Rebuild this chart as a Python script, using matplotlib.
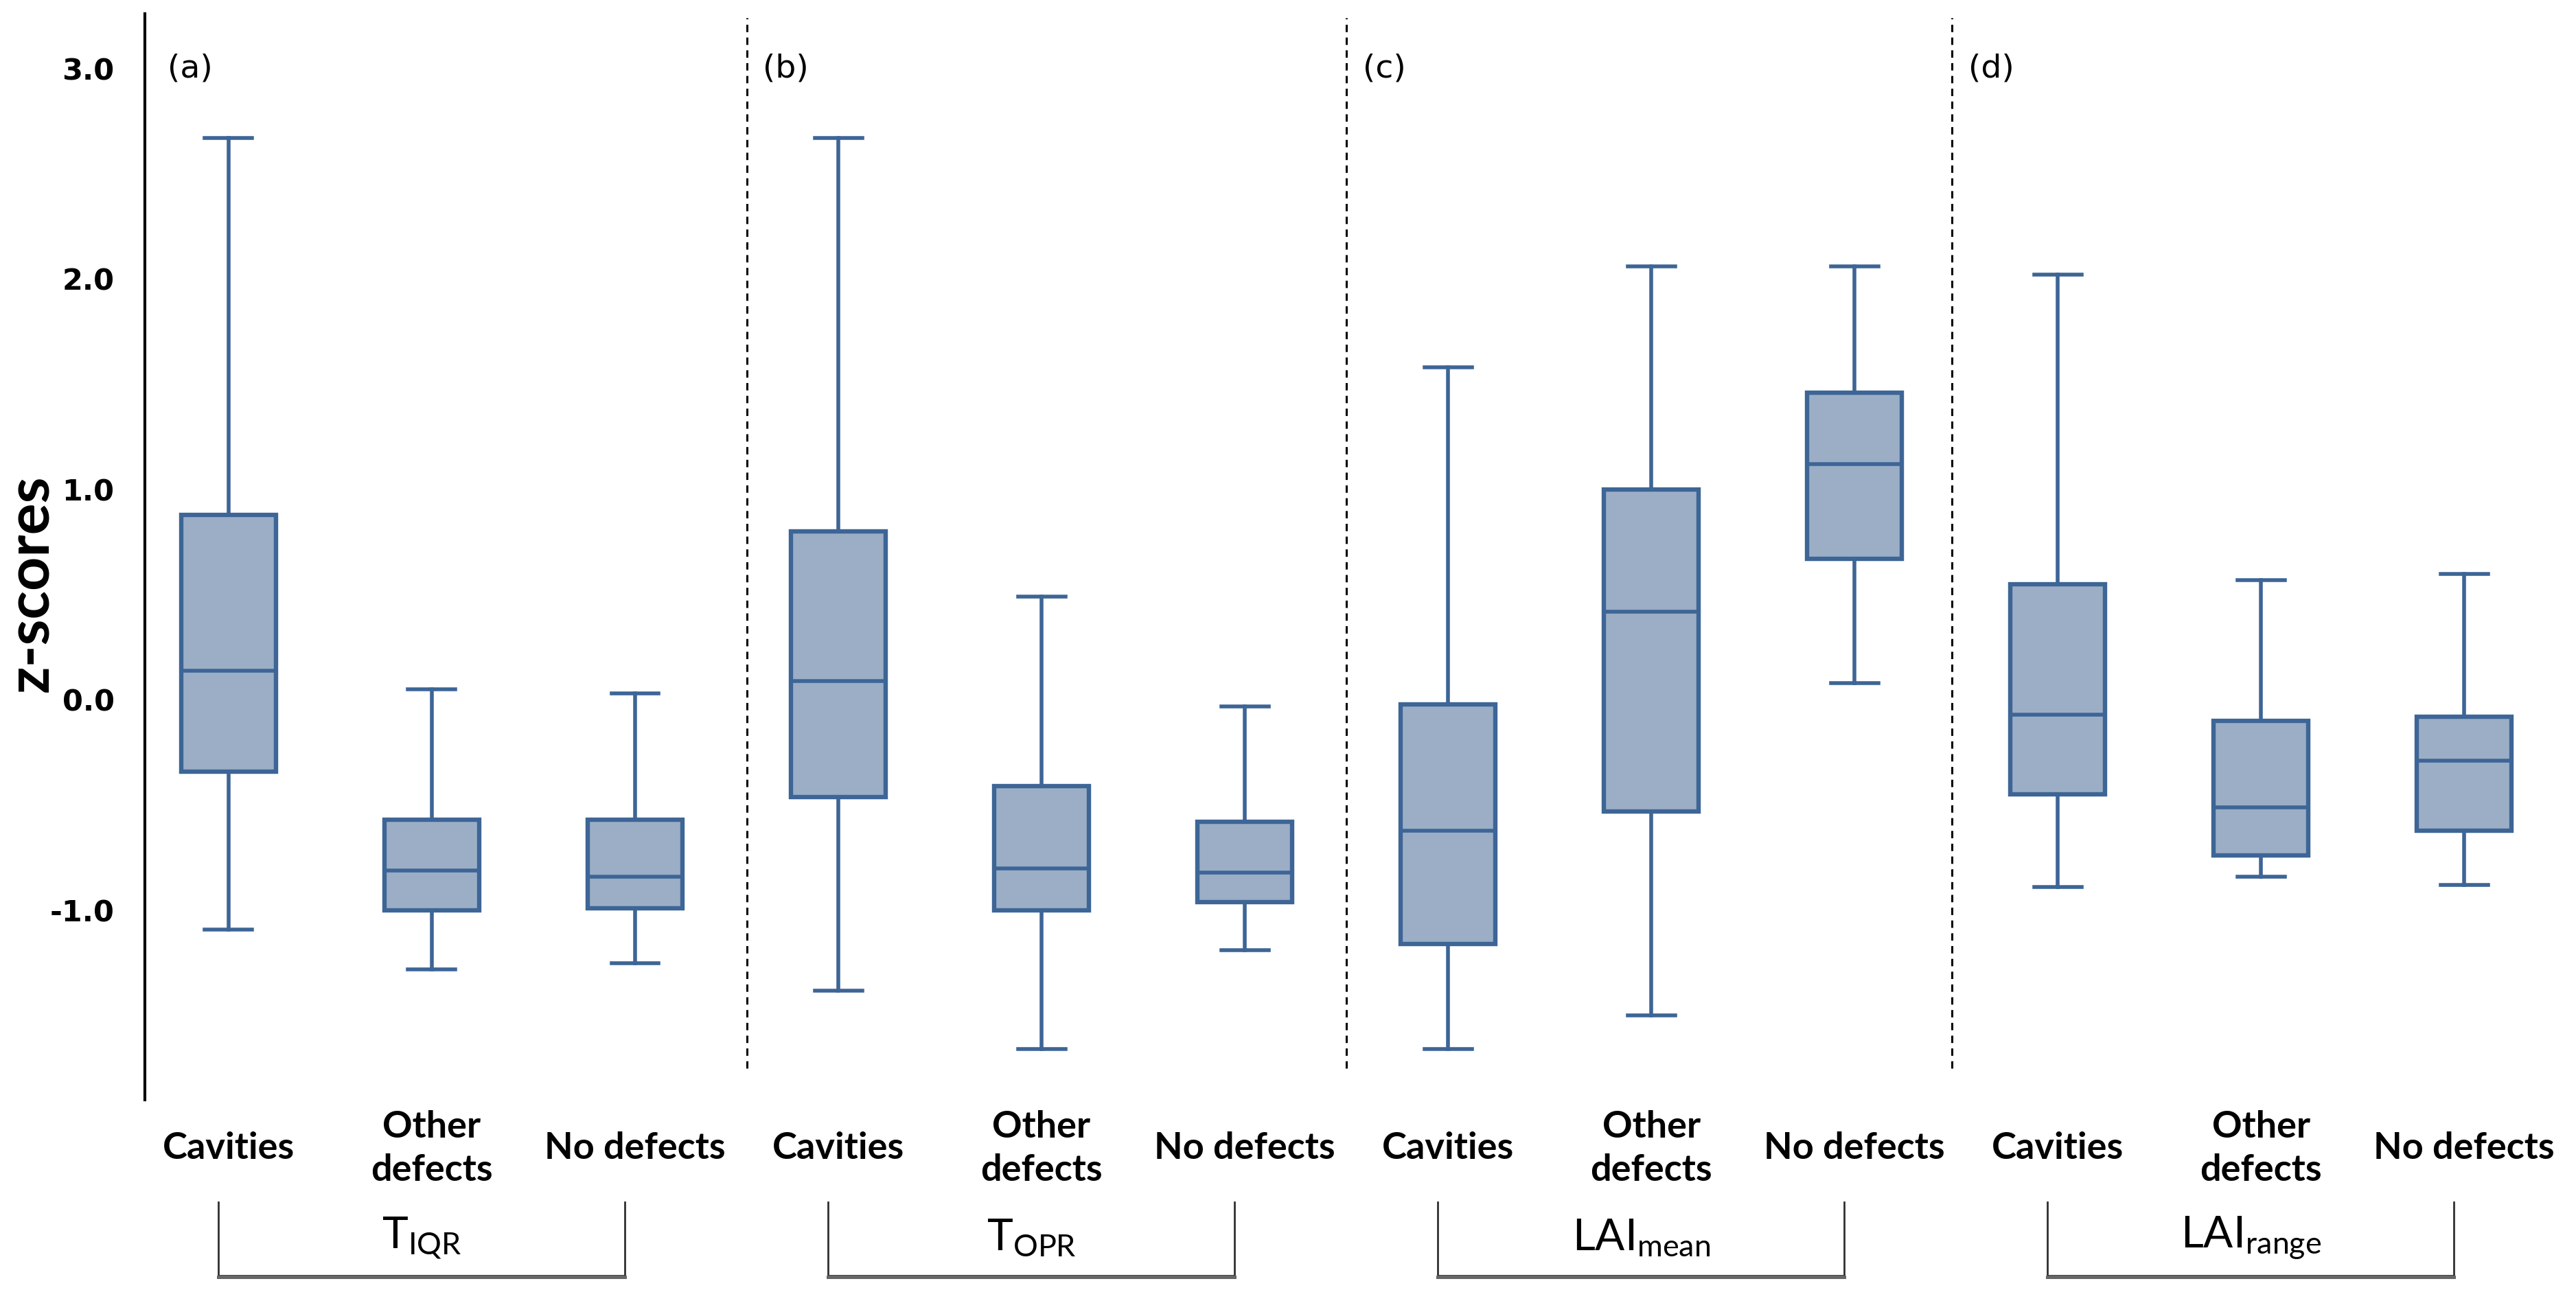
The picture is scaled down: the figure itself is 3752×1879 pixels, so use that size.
import matplotlib
matplotlib.use("Agg")
import matplotlib.pyplot as plt
from matplotlib.transforms import blended_transform_factory

plt.rcParams['axes.unicode_minus'] = False
plt.rcParams['mathtext.default'] = 'regular'

# groups and categories
panels = ['(a)', '(b)', '(c)', '(d)']
groups = ['T$_{IQR}$', 'T$_{OPR}$', 'LAI$_{mean}$', 'LAI$_{range}$']
categories = ['Cavities', 'Other\ndefects', 'No defects']

# box statistics (3 per group, in group order)
whis_hi = [2.67, 0.05, 0.03,  2.67, 0.49, -0.03,  1.58, 2.06, 2.06,  2.02, 0.57, 0.60]
q3      = [0.88, -0.57, -0.57,  0.80, -0.41, -0.58,  -0.02, 1.00, 1.46,  0.55, -0.10, -0.08]
median  = [0.14, -0.81, -0.84,  0.09, -0.80, -0.82,  -0.62, 0.42, 1.12,  -0.07, -0.51, -0.29]
q1      = [-0.34, -1.00, -0.99,  -0.46, -1.00, -0.96,  -1.16, -0.53, 0.67,  -0.45, -0.74, -0.62]
whis_lo = [-1.09, -1.28, -1.25,  -1.38, -1.66, -1.19,  -1.66, -1.50, 0.08,  -0.89, -0.84, -0.88]

yticks = [-1.0, 0.0, 1.0, 2.0, 3.0]

edge = '#3D6596'
fill = '#9BAEC5'

W, H, DPI = 3752, 1879, 200
fig = plt.figure(figsize=(W / DPI, H / DPI), dpi=DPI)
ax = fig.add_axes([211 / W, 1 - 1602 / H, (W - 211) / W, (1602 - 20) / H])

stats = []
for i in range(len(median)):
    stats.append(dict(med=median[i], q1=q1[i], q3=q3[i],
                      whislo=whis_lo[i], whishi=whis_hi[i], fliers=[]))

positions = list(range(len(stats)))
ax.bxp(stats, positions=positions, widths=0.466, capwidths=0.233,
       patch_artist=True, showfliers=False,
       boxprops=dict(facecolor=fill, edgecolor=edge, linewidth=2.3),
       whiskerprops=dict(color=edge, linewidth=2.0),
       capprops=dict(color=edge, linewidth=2.0),
       medianprops=dict(color=edge, linewidth=2.0))

ax.set_xlim(-0.412, 11.55)
ax.set_ylim(-1.90, 3.26)

for s in ['top', 'right', 'bottom']:
    ax.spines[s].set_visible(False)
ax.spines['left'].set_linewidth(1.5)
ax.spines['left'].set_color('black')

ax.set_xticks([])
ax.set_yticks(yticks)
ax.set_yticklabels([f'{v:.1f}' for v in yticks], fontsize=15.5,
                   fontweight='bold', family='DejaVu Sans')
ax.tick_params(axis='y', length=0, pad=16)

# dashed separators between panels
seps = [2.55, 5.5, 8.48]
for xs in seps:
    ax.vlines(xs, -1.75, 3.24, colors='black', linewidth=1.1,
              linestyles=(0, (3.5, 2.6)))

# panel letters
for k, lab in enumerate(panels):
    x0 = -0.30 if k == 0 else seps[k - 1] + 0.08
    ax.text(x0, 3.0, lab, fontsize=17, va='center', ha='left',
            family='DejaVu Sans')

# category labels and group brackets below the axis
tr = blended_transform_factory(ax.transData, fig.transFigure)
for g in range(len(groups)):
    pos = positions[3 * g:3 * g + 3]
    for j, cat in enumerate(categories):
        ax.text(pos[j], 1 - 1673 / H, cat, transform=tr, ha='center',
                va='center', fontsize=19.5, fontweight='bold', family='Lato',
                linespacing=1.35, clip_on=False)
    c = sum(pos) / 3 - 0.05
    left, right = c - 1.0, c + 1.0
    ytop, ybot = 1 - 1751 / H, 1 - 1858 / H
    ax.plot([left, left, right, right], [ytop, ybot, ybot, ytop],
            transform=tr, color='#303030', linewidth=1.0, clip_on=False)
    ax.plot([left, right], [ybot - 0.0012, ybot - 0.0012], transform=tr,
            color='#666666', linewidth=1.8, clip_on=False)
    ax.text(c, 1 - 1803 / H, groups[g], transform=tr, ha='center',
            va='center', fontsize=23, family='Lato', clip_on=False)

fig.text(46 / W, 1 - 850 / H, 'z-scores', rotation=90, ha='center',
         va='center', fontsize=31, fontweight='bold', family='Lato')

fig.savefig('out.png', dpi=DPI)
